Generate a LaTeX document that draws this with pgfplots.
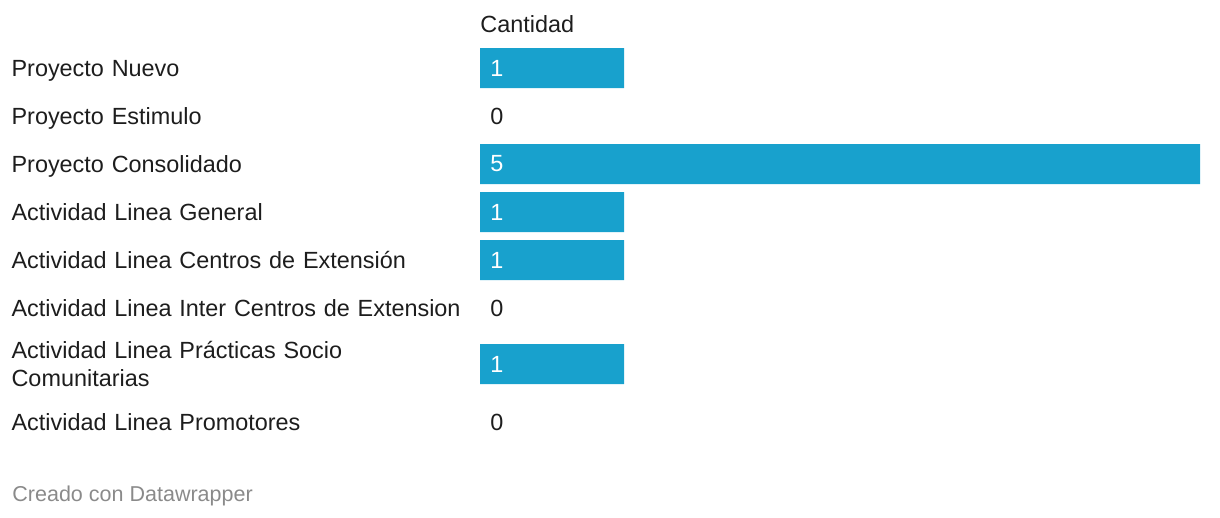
\documentclass[border=0pt]{standalone}
\usepackage{pgfplots}
\pgfplotsset{compat=1.18}
\usepackage{fontspec}
\setmainfont{Liberation Sans}
\definecolor{dwblue}{HTML}{18A1CD}
\definecolor{txt}{HTML}{1D1D1D}
\definecolor{foot}{HTML}{8A8A8A}
\begin{document}
\begin{tikzpicture}
\useasboundingbox (0,0) rectangle (610bp,-259bp);
\begin{axis}[
  at={(240bp,-22bp)}, anchor=north west,
  x=72bp, y=24bp, y dir=reverse,
  xmin=0, xmax=5, ymin=-0.5, ymax=7.875,
  axis line style={draw=none},
  xtick=\empty,
  ytick={0,1,2,3,4,5,5.875,7.375},
  major tick length=0pt, tick style={draw=none},
  yticklabels={Proyecto Nuevo, Proyecto Estimulo, Proyecto Consolidado, Actividad Linea General, Actividad Linea Centros de Extensión, Actividad Linea Inter Centros de Extension, {Actividad Linea Prácticas Socio\\Comunitarias}, Actividad Linea Promotores},
  yticklabel style={anchor=east, inner xsep=0pt, text width=234bp, text depth=0pt, align=left, font=\fontsize{11.75}{14}\selectfont, text=txt},
  title={Cantidad},
  title style={at={(rel axis cs:0,1)}, anchor=base west, inner sep=0pt, yshift=0bp, font=\fontsize{11.75}{14}\selectfont, text=txt},
  clip=false,
]
\addplot[xbar, bar width=20bp, fill=dwblue, draw=none, restrict x to domain=0.5:10]
  coordinates {(1,0) (0,1) (5,2) (1,3) (1,4) (0,5) (1,6.1667) (0,7.375)};
\addplot[draw=none, mark=none, nodes near coords, point meta=explicit symbolic,
  nodes near coords style={anchor=west, inner sep=0pt, xshift=5bp, text=white, font=\fontsize{11.75}{14}\selectfont}]
  coordinates {(0,0) [1] (0,2) [5] (0,3) [1] (0,4) [1] (0,6.1667) [1]};
\addplot[draw=none, mark=none, nodes near coords, point meta=explicit symbolic,
  nodes near coords style={anchor=west, inner sep=0pt, xshift=5bp, text=txt, font=\fontsize{11.75}{14}\selectfont}]
  coordinates {(0,1) [0] (0,5) [0] (0,7.375) [0]};
\end{axis}
\node[anchor=base west, inner sep=0pt, text=foot, font=\fontsize{10.8}{14}\selectfont] at (6bp,-250.5bp) {Creado con Datawrapper};
\end{tikzpicture}
\end{document}
